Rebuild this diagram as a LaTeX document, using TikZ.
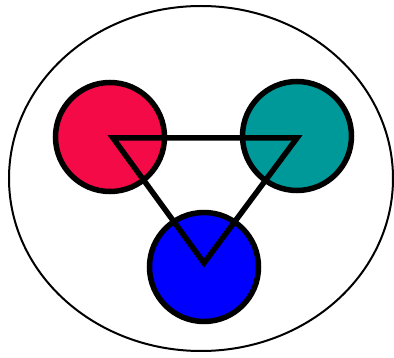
\documentclass[tikz,border=0pt]{standalone}
\usetikzlibrary{positioning,shapes.geometric}
\definecolor{quarkred}{HTML}{F50A48}
\definecolor{quarkteal}{HTML}{009999}
\definecolor{quarkblue}{HTML}{0000FF}

\begin{document}
\begin{tikzpicture}[x=1pt,y=-1pt,
   quark/.style={circle,draw,line width=5.5pt,minimum size=109pt,inner sep=0pt},
   bond/.style={line width=5.5pt,line join=miter}]
  \useasboundingbox (0,0) rectangle (394,358);
  \node[ellipse,draw,line width=2pt,minimum width=384pt,minimum height=345pt,inner sep=0pt] (hadron) at (201,178.5) {};
  \node[quark,fill=quarkred] (qr) at (110,137) {};
  \node[quark,fill=quarkteal] (qt) at (297,136) {};
  \node[quark,fill=quarkblue] (qb) at (204,267) {};
  \coordinate (vr) at (113,138);
  \coordinate (vt) at (297,138);
  \coordinate (vb) at (204,263);
  \draw[bond] (vr) -- (vt) -- (vb) -- cycle;
\end{tikzpicture}
\end{document}
